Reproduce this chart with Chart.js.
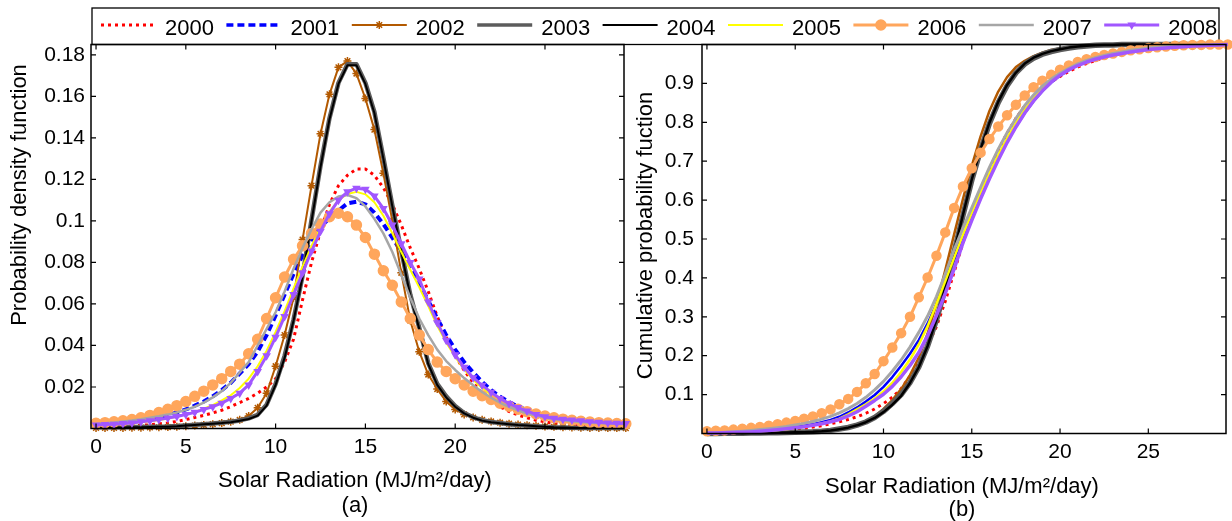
<!DOCTYPE html>
<html>
<head>
<meta charset="utf-8">
<script src="https://cdn.jsdelivr.net/npm/chart.js@4.4.1/dist/chart.umd.min.js"></script>
<style>
  html, body { margin: 0; padding: 0; background: #fff; }
  #wrap { position: relative; width: 1232px; height: 521px; }
  #wrap canvas { position: absolute; left: 0; top: 0; }
</style>
</head>
<body>
<div id="wrap">
  <canvas id="pdf" width="1232" height="521"></canvas>
  <canvas id="cdf" width="1232" height="521"></canvas>
</div>
<script>
const years = ['2000', '2001', '2002', '2003', '2004', '2005', '2006', '2007', '2008'];

// solar radiation grid (MJ/m2/day)
const radiation = [0, 0.5, 1, 1.5, 2, 2.5, 3, 3.5, 4, 4.5,
  5, 5.5, 6, 6.5, 7, 7.5, 8, 8.5, 9, 9.5,
  10, 10.5, 11, 11.5, 12, 12.5, 13, 13.5, 14, 14.5,
  15, 15.5, 16, 16.5, 17, 17.5, 18, 18.5, 19, 19.5,
  20, 20.5, 21, 21.5, 22, 22.5, 23, 23.5, 24, 24.5,
  25, 25.5, 26, 26.5, 27, 27.5, 28, 28.5, 29, 29.5];

const xTicks = [0, 5, 10, 15, 20, 25];
const pdfTicks = [0.02, 0.04, 0.06, 0.08, 0.1, 0.12, 0.14, 0.16, 0.18];
const cdfTicks = [0.1, 0.2, 0.3, 0.4, 0.5, 0.6, 0.7, 0.8, 0.9];

// probability density, one array per year
const pdf2000 = [0.0008, 0.0009, 0.001, 0.0011, 0.0013, 0.0015, 0.0018, 0.0022, 0.0027, 0.0034,
  0.0043, 0.0053, 0.0063, 0.0075, 0.0088, 0.0105, 0.0125, 0.0145, 0.017, 0.02,
  0.024, 0.032, 0.043, 0.062, 0.08, 0.095, 0.108, 0.117, 0.122, 0.125,
  0.125, 0.122, 0.116, 0.108, 0.098, 0.087, 0.077, 0.066, 0.054, 0.044,
  0.035, 0.028, 0.022, 0.017, 0.0135, 0.0105, 0.0082, 0.0065, 0.0051, 0.004,
  0.0032, 0.0025, 0.002, 0.0016, 0.0013, 0.0011, 0.0009, 0.0008, 0.0007, 0.0006];
const pdf2001 = [0.0018, 0.0021, 0.0024, 0.0028, 0.0033, 0.0039, 0.0046, 0.0055, 0.0065, 0.0077,
  0.0092, 0.011, 0.013, 0.0155, 0.0185, 0.022, 0.0265, 0.031, 0.037, 0.045,
  0.0545, 0.0645, 0.0745, 0.0835, 0.091, 0.097, 0.1015, 0.105, 0.1085, 0.1093,
  0.108, 0.104, 0.0985, 0.092, 0.085, 0.078, 0.07, 0.0615, 0.053, 0.045,
  0.038, 0.032, 0.027, 0.0225, 0.0185, 0.0153, 0.0127, 0.0106, 0.0088, 0.0073,
  0.006, 0.005, 0.0043, 0.0038, 0.0034, 0.0031, 0.0029, 0.0027, 0.0026, 0.0025];
const pdf2002 = [0.0003, 0.0003, 0.0003, 0.0003, 0.0004, 0.0004, 0.0005, 0.0006, 0.0007, 0.0009,
  0.0011, 0.0014, 0.0017, 0.0021, 0.0026, 0.0033, 0.0042, 0.006, 0.01, 0.017,
  0.03, 0.045, 0.063, 0.091, 0.117, 0.142, 0.161, 0.174, 0.177, 0.171,
  0.159, 0.144, 0.123, 0.1, 0.075, 0.052, 0.037, 0.026, 0.019, 0.013,
  0.0092, 0.0068, 0.0053, 0.0042, 0.0034, 0.0028, 0.0023, 0.0019, 0.0016, 0.0013,
  0.001, 0.0008, 0.0006, 0.0005, 0.0004, 0.0003, 0.0003, 0.0002, 0.0002, 0.0002];
const pdf2003 = [0.0006, 0.0006, 0.0006, 0.0006, 0.0007, 0.0007, 0.0008, 0.0009, 0.001, 0.0012,
  0.0015, 0.0018, 0.0021, 0.0024, 0.0028, 0.0032, 0.0039, 0.0049, 0.0066, 0.0115,
  0.0215, 0.035, 0.0525, 0.0735, 0.1005, 0.1265, 0.1495, 0.1665, 0.1755, 0.1755,
  0.1665, 0.1525, 0.1305, 0.1075, 0.0855, 0.0645, 0.0485, 0.0315, 0.0215, 0.0155,
  0.0108, 0.0075, 0.0054, 0.004, 0.0031, 0.0026, 0.0021, 0.0017, 0.0014, 0.0011,
  0.0008, 0.0006, 0.0005, 0.0004, 0.0003, 0.0003, 0.0002, 0.0002, 0.0002, 0.0002];
const pdf2004 = [0.0005, 0.0005, 0.0005, 0.0005, 0.0006, 0.0006, 0.0007, 0.0008, 0.0009, 0.0011,
  0.0014, 0.0017, 0.002, 0.0023, 0.0026, 0.003, 0.0037, 0.0046, 0.0062, 0.011,
  0.021, 0.034, 0.052, 0.073, 0.1, 0.126, 0.149, 0.166, 0.175, 0.175,
  0.166, 0.152, 0.13, 0.107, 0.085, 0.064, 0.048, 0.031, 0.021, 0.015,
  0.0105, 0.0073, 0.0052, 0.0038, 0.003, 0.0025, 0.0021, 0.0017, 0.0014, 0.0011,
  0.0008, 0.0006, 0.0005, 0.0004, 0.0003, 0.0003, 0.0002, 0.0002, 0.0002, 0.0002];
const pdf2005 = [0.0015, 0.0017, 0.0019, 0.0022, 0.0026, 0.003, 0.0035, 0.0041, 0.0048, 0.0057,
  0.0068, 0.008, 0.0095, 0.0113, 0.0135, 0.016, 0.0195, 0.024, 0.03, 0.0375,
  0.0465, 0.0565, 0.0675, 0.078, 0.088, 0.097, 0.1045, 0.11, 0.113, 0.114,
  0.1128, 0.109, 0.1025, 0.094, 0.085, 0.0765, 0.068, 0.059, 0.0495, 0.0415,
  0.0345, 0.0285, 0.0235, 0.0195, 0.0162, 0.0133, 0.011, 0.0091, 0.0075, 0.0062,
  0.0052, 0.0045, 0.004, 0.0036, 0.0032, 0.0029, 0.0027, 0.0025, 0.0023, 0.0022];
const pdf2006 = [0.0025, 0.0028, 0.0032, 0.0037, 0.0043, 0.0052, 0.0063, 0.0077, 0.0093, 0.011,
  0.013, 0.0155, 0.018, 0.021, 0.024, 0.0275, 0.031, 0.036, 0.043, 0.053,
  0.063, 0.073, 0.0815, 0.088, 0.094, 0.0985, 0.102, 0.1037, 0.102, 0.098,
  0.092, 0.084, 0.076, 0.069, 0.061, 0.053, 0.045, 0.038, 0.032, 0.0275,
  0.024, 0.021, 0.018, 0.0158, 0.014, 0.0122, 0.0107, 0.0093, 0.0081, 0.007,
  0.006, 0.0052, 0.0045, 0.004, 0.0035, 0.0031, 0.0028, 0.0026, 0.0024, 0.0023];
const pdf2007 = [0.0022, 0.0025, 0.0029, 0.0034, 0.0039, 0.0045, 0.0052, 0.0059, 0.0067, 0.0077,
  0.009, 0.0105, 0.0125, 0.015, 0.018, 0.022, 0.027, 0.032, 0.04, 0.048,
  0.056, 0.066, 0.077, 0.087, 0.096, 0.104, 0.109, 0.1118, 0.1125, 0.111,
  0.107, 0.101, 0.094, 0.085, 0.074, 0.063, 0.053, 0.045, 0.038, 0.0325,
  0.0282, 0.0243, 0.0208, 0.0176, 0.0148, 0.0124, 0.0104, 0.0087, 0.0073, 0.0062,
  0.0053, 0.0046, 0.004, 0.0035, 0.0031, 0.0028, 0.0026, 0.0024, 0.0023, 0.0022];
const pdf2008 = [0.0017, 0.0019, 0.0021, 0.0024, 0.0027, 0.0032, 0.0037, 0.0043, 0.005, 0.0058,
  0.0067, 0.0078, 0.0092, 0.0105, 0.0122, 0.0145, 0.017, 0.021, 0.0275, 0.035,
  0.044, 0.054, 0.0645, 0.075, 0.0855, 0.095, 0.1035, 0.11, 0.114, 0.1158,
  0.1153, 0.112, 0.106, 0.098, 0.089, 0.08, 0.072, 0.061, 0.051, 0.0425,
  0.0355, 0.0295, 0.0245, 0.0208, 0.0175, 0.0145, 0.012, 0.0101, 0.0084, 0.0068,
  0.0057, 0.0049, 0.0044, 0.0041, 0.0037, 0.0033, 0.003, 0.0027, 0.0025, 0.0024];

// cumulative probability, one array per year
const cdf2000 = [0, 0.0006, 0.0012, 0.0018, 0.0025, 0.0033, 0.0043, 0.0055, 0.007, 0.0088,
  0.011, 0.0135, 0.0165, 0.02, 0.025, 0.03, 0.036, 0.043, 0.052, 0.063,
  0.077, 0.093, 0.115, 0.147, 0.185, 0.226, 0.275, 0.34, 0.415, 0.49,
  0.56, 0.622, 0.678, 0.728, 0.772, 0.81, 0.842, 0.867, 0.887, 0.904,
  0.918, 0.931, 0.942, 0.951, 0.959, 0.966, 0.972, 0.977, 0.981, 0.985,
  0.988, 0.99, 0.992, 0.994, 0.995, 0.996, 0.997, 0.998, 0.999, 1];
const cdf2001 = [0.001, 0.0015, 0.002, 0.003, 0.004, 0.0055, 0.007, 0.009, 0.011, 0.0135,
  0.0165, 0.02, 0.024, 0.029, 0.035, 0.043, 0.054, 0.067, 0.082, 0.099,
  0.12, 0.145, 0.174, 0.205, 0.24, 0.283, 0.333, 0.389, 0.445, 0.503,
  0.558, 0.61, 0.66, 0.707, 0.75, 0.789, 0.824, 0.854, 0.88, 0.902,
  0.92, 0.934, 0.946, 0.956, 0.964, 0.971, 0.977, 0.981, 0.985, 0.988,
  0.991, 0.993, 0.995, 0.996, 0.997, 0.998, 0.999, 0.999, 1, 1];
const cdf2002 = [0, 0.0002, 0.0003, 0.0004, 0.0006, 0.0008, 0.001, 0.0013, 0.0017, 0.0022,
  0.0028, 0.0035, 0.0045, 0.006, 0.008, 0.011, 0.015, 0.021, 0.03, 0.044,
  0.063, 0.086, 0.114, 0.15, 0.195, 0.257, 0.333, 0.42, 0.512, 0.603,
  0.688, 0.764, 0.829, 0.879, 0.916, 0.942, 0.958, 0.97, 0.979, 0.986,
  0.99, 0.993, 0.995, 0.997, 0.998, 0.999, 0.999, 1, 1, 1,
  1, 1, 1, 1, 1, 1, 1, 1, 1, 1];
const cdf2003 = [0, 0.0003, 0.0005, 0.0007, 0.0009, 0.0012, 0.0015, 0.0018, 0.0022, 0.0027,
  0.0033, 0.0039, 0.0046, 0.006, 0.008, 0.0115, 0.0155, 0.0215, 0.0295, 0.041,
  0.057, 0.077, 0.1, 0.131, 0.171, 0.225, 0.292, 0.374, 0.466, 0.56,
  0.651, 0.729, 0.797, 0.851, 0.894, 0.927, 0.95, 0.965, 0.975, 0.982,
  0.987, 0.991, 0.994, 0.996, 0.998, 0.999, 0.999, 1, 1, 1,
  1, 1, 1, 1, 1, 1, 1, 1, 1, 1];
const cdf2004 = [0, 0.0002, 0.0004, 0.0006, 0.0008, 0.001, 0.0013, 0.0016, 0.002, 0.0025,
  0.003, 0.0035, 0.0042, 0.0055, 0.0075, 0.011, 0.015, 0.021, 0.029, 0.04,
  0.055, 0.074, 0.097, 0.13, 0.171, 0.225, 0.293, 0.376, 0.468, 0.562,
  0.653, 0.731, 0.799, 0.853, 0.896, 0.928, 0.951, 0.966, 0.976, 0.983,
  0.988, 0.992, 0.995, 0.997, 0.998, 0.999, 0.999, 1, 1, 1,
  1, 1, 1, 1, 1, 1, 1, 1, 1, 1];
const cdf2005 = [0.001, 0.0013, 0.0017, 0.0023, 0.003, 0.004, 0.0055, 0.007, 0.009, 0.011,
  0.014, 0.017, 0.021, 0.026, 0.031, 0.038, 0.049, 0.062, 0.075, 0.09,
  0.108, 0.13, 0.158, 0.19, 0.229, 0.276, 0.333, 0.392, 0.452, 0.51,
  0.566, 0.619, 0.669, 0.716, 0.759, 0.798, 0.832, 0.862, 0.887, 0.908,
  0.925, 0.939, 0.95, 0.959, 0.967, 0.973, 0.978, 0.982, 0.986, 0.989,
  0.991, 0.993, 0.995, 0.996, 0.997, 0.998, 0.999, 0.999, 1, 1];
const cdf2006 = [0.006, 0.007, 0.008, 0.01, 0.012, 0.0145, 0.017, 0.02, 0.024, 0.028,
  0.032, 0.038, 0.044, 0.052, 0.062, 0.075, 0.089, 0.107, 0.129, 0.153,
  0.186, 0.221, 0.258, 0.3, 0.35, 0.401, 0.457, 0.517, 0.58, 0.635,
  0.682, 0.722, 0.757, 0.789, 0.818, 0.845, 0.869, 0.89, 0.907, 0.922,
  0.935, 0.946, 0.955, 0.962, 0.968, 0.973, 0.977, 0.981, 0.985, 0.988,
  0.991, 0.993, 0.995, 0.997, 0.998, 0.999, 0.999, 1, 1, 1];
const cdf2007 = [0.001, 0.002, 0.003, 0.0045, 0.006, 0.008, 0.01, 0.0125, 0.015, 0.018,
  0.022, 0.026, 0.031, 0.037, 0.044, 0.053, 0.064, 0.077, 0.093, 0.112,
  0.134, 0.16, 0.189, 0.222, 0.26, 0.302, 0.352, 0.41, 0.472, 0.528,
  0.58, 0.633, 0.684, 0.731, 0.773, 0.81, 0.843, 0.87, 0.893, 0.911,
  0.926, 0.939, 0.95, 0.959, 0.966, 0.972, 0.977, 0.981, 0.985, 0.988,
  0.991, 0.993, 0.995, 0.996, 0.997, 0.998, 0.999, 0.999, 1, 1];
const cdf2008 = [0.001, 0.0013, 0.0017, 0.0023, 0.003, 0.004, 0.0055, 0.0075, 0.0095, 0.012,
  0.0145, 0.0175, 0.021, 0.025, 0.03, 0.036, 0.045, 0.056, 0.07, 0.085,
  0.101, 0.121, 0.146, 0.175, 0.208, 0.252, 0.303, 0.36, 0.423, 0.49,
  0.548, 0.603, 0.655, 0.703, 0.748, 0.788, 0.824, 0.855, 0.881, 0.903,
  0.921, 0.935, 0.946, 0.955, 0.962, 0.968, 0.973, 0.977, 0.981, 0.984,
  0.987, 0.989, 0.991, 0.993, 0.994, 0.996, 0.997, 0.998, 0.999, 1];

const pdfSeries = [pdf2000, pdf2001, pdf2002, pdf2003, pdf2004, pdf2005, pdf2006, pdf2007, pdf2008];
const cdfSeries = [cdf2000, cdf2001, cdf2002, cdf2003, cdf2004, cdf2005, cdf2006, cdf2007, cdf2008];

// line styles, same order as years; cdf* overrides apply to panel (b)
const styles = [
  { color: '#ff0000', width: 3, dash: [3, 4] },
  { color: '#0000ff', width: 4, dash: [7, 4], cdfWidth: 2.5, cdfDash: [] },
  { color: '#b35900', width: 2, dash: [], marker: 'star', radius: 4, cdfWidth: 2.5 },
  { color: '#5c5c5c', width: 4.5, dash: [], cdfWidth: 5.5 },
  { color: '#000000', width: 2, dash: [], cdfWidth: 2.5 },
  { color: '#ffff00', width: 2, dash: [], cdfWidth: 2.5 },
  { color: '#ffa65c', width: 3, dash: [], marker: 'circle', radius: 5, cdfRadius: 4.5 },
  { color: '#a6a6a6', width: 2.5, dash: [], cdfWidth: 3 },
  { color: '#a157ff', width: 3, dash: [], marker: 'triangle', radius: 3.5, rotation: 180, cdfWidth: 3.5 }
];

const fontFamily = '"Liberation Sans", Arial, Helvetica, sans-serif';
Chart.defaults.font.family = fontFamily;
Chart.defaults.color = '#000';

function makeDatasets(series, isCdf) {
  return series.map((vals, i) => {
    const s = styles[i];
    const marked = s.marker && (!isCdf || s.marker === 'circle');
    const radius = isCdf && s.cdfRadius ? s.cdfRadius : s.radius;
    return {
      label: years[i],
      data: radiation.map((x, k) => ({ x: x, y: vals[k] })),
      borderColor: s.color,
      backgroundColor: s.color,
      borderWidth: isCdf && s.cdfWidth ? s.cdfWidth : s.width,
      borderDash: isCdf && s.cdfDash ? s.cdfDash : s.dash,
      borderJoinStyle: 'round',
      pointStyle: s.marker || 'circle',
      pointRadius: marked ? radius : 0,
      pointRotation: s.rotation || 0,
      pointBorderWidth: 1.5,
      pointBorderColor: s.color,
      pointBackgroundColor: s.color,
      tension: 0,
      clip: false,
      order: 8 - i   // later years drawn on top
    };
  });
}

// box, inward ticks and axis titles, MATLAB style
function framePlugin(o) {
  return {
    id: 'frame' + o.caption.replace(/\W/g, ''),
    afterDraw(chart) {
      const { ctx, chartArea: a, scales } = chart;
      ctx.save();
      ctx.strokeStyle = '#000';
      ctx.lineWidth = 1.2;
      ctx.beginPath();
      xTicks.forEach(v => {
        const p = scales.x.getPixelForValue(v);
        ctx.moveTo(p, a.bottom); ctx.lineTo(p, a.bottom - 5);
        ctx.moveTo(p, a.top); ctx.lineTo(p, a.top + 5);
      });
      o.yTicks.forEach(v => {
        const p = scales.y.getPixelForValue(v);
        ctx.moveTo(a.left, p); ctx.lineTo(a.left + 5, p);
        ctx.moveTo(a.right, p); ctx.lineTo(a.right - 5, p);
      });
      ctx.stroke();
      ctx.lineWidth = 1.5;
      ctx.strokeRect(a.left, a.top, a.right - a.left, a.bottom - a.top);

      ctx.fillStyle = '#000';
      ctx.font = '22px ' + fontFamily;
      ctx.textAlign = 'center';
      ctx.textBaseline = 'middle';
      ctx.fillText('Solar Radiation (MJ/m\u00B2/day)', o.centerX, o.xTitleY);
      ctx.fillText(o.caption, o.centerX, o.captionY);
      ctx.translate(o.yTitleX, o.yTitleY);
      ctx.rotate(-Math.PI / 2);
      ctx.fillText(o.yTitle, 0, 0);
      ctx.restore();
    }
  };
}

const legendPlugin = {
  id: 'yearLegend',
  afterDraw(chart) {
    const ctx = chart.ctx;
    ctx.save();
    ctx.fillStyle = '#fff';
    ctx.fillRect(92, 8, 1127, 36.5);
    ctx.strokeStyle = '#000';
    ctx.lineWidth = 1.3;
    ctx.strokeRect(92, 8, 1127, 36.5);
    ctx.font = '22px ' + fontFamily;
    ctx.textAlign = 'left';
    ctx.textBaseline = 'middle';
    years.forEach((year, i) => {
      const s = styles[i];
      const x0 = 101 + i * 125.4;
      ctx.strokeStyle = s.color;
      ctx.lineWidth = Math.min(s.width, 3.5);
      ctx.setLineDash(s.dash);
      ctx.beginPath();
      ctx.moveTo(x0, 25);
      ctx.lineTo(x0 + 55, 25);
      ctx.stroke();
      ctx.setLineDash([]);
      if (s.marker) {
        ctx.fillStyle = s.color;
        ctx.lineWidth = 1.5;
        Chart.helpers.drawPoint(ctx, { pointStyle: s.marker, rotation: s.rotation || 0, radius: s.radius, borderWidth: 1.5 }, x0 + 27.5, 25);
      }
      ctx.fillStyle = '#000';
      ctx.fillText(year, x0 + 64, 28.5);
    });
    ctx.restore();
  }
};

function scaleOptions(yTicks, yMax, yWidth, yPad) {
  return {
    x: {
      type: 'linear', min: -0.28, max: 29.4,
      afterBuildTicks: s => { s.ticks = xTicks.map(v => ({ value: v })); },
      afterFit: s => { s.height = 40; },
      grid: { display: false, drawTicks: false },
      border: { display: false },
      ticks: { padding: 6, autoSkip: false, maxRotation: 0, font: { size: 21 }, callback: v => String(v) }
    },
    y: {
      type: 'linear', min: 0, max: yMax,
      afterBuildTicks: s => { s.ticks = yTicks.map(v => ({ value: v })); },
      afterFit: s => { s.width = yWidth; },
      grid: { display: false, drawTicks: false },
      border: { display: false },
      ticks: { padding: yPad, autoSkip: false, font: { size: 21 }, callback: v => String(v) }
    }
  };
}

new Chart(document.getElementById('pdf'), {
  type: 'line',
  data: { datasets: makeDatasets(pdfSeries, false) },
  options: {
    responsive: false, animation: false, events: [],
    layout: { padding: { left: 0, right: 608, top: 44.5, bottom: 52.5 } },
    plugins: { legend: { display: false }, tooltip: { enabled: false } },
    scales: scaleOptions(pdfTicks, 0.185, 91, 6)
  },
  plugins: [legendPlugin, framePlugin({
    yTicks: pdfTicks, caption: '(a)', yTitle: 'Probability density function',
    centerX: 355, xTitleY: 481, captionY: 506, yTitleX: 19.5, yTitleY: 195
  })]
});

new Chart(document.getElementById('cdf'), {
  type: 'line',
  data: { datasets: makeDatasets(cdfSeries, true) },
  options: {
    responsive: false, animation: false, events: [],
    layout: { padding: { left: 642, right: 4, top: 44.5, bottom: 47.5 } },
    plugins: { legend: { display: false }, tooltip: { enabled: false } },
    scales: scaleOptions(cdfTicks, 1, 60, 8)
  },
  plugins: [framePlugin({
    yTicks: cdfTicks, caption: '(b)', yTitle: 'Cumulative probability fuction',
    centerX: 962, xTitleY: 487, captionY: 510, yTitleX: 645.5, yTitleY: 235.5
  })]
});
</script>
</body>
</html>
